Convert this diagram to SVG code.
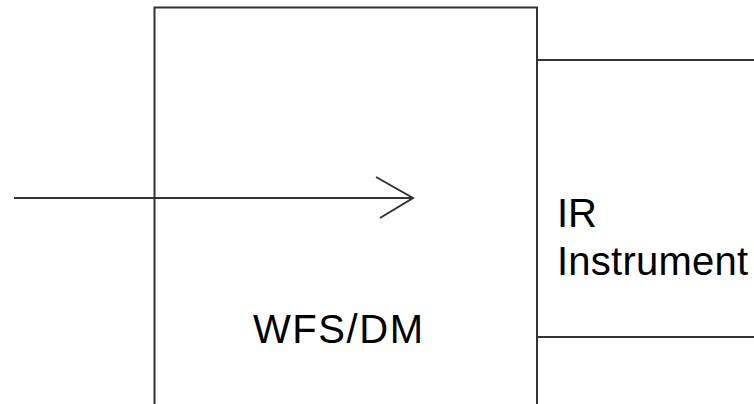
<svg xmlns="http://www.w3.org/2000/svg" width="754" height="404" viewBox="0 0 754 404">
<style>
.ln{fill:none;stroke:#333;stroke-width:2}
.t{font-family:"Liberation Sans",Arial,sans-serif;font-size:40px;fill:#000}
</style>
<rect width="754" height="404" fill="#fff"/>
<g id="wfsdm">
<path class="ln" d="M154.5,404 V7.5 H537 V404"/>
<text class="t" x="253" y="343" textLength="170" lengthAdjust="spacing">WFS/DM</text>
</g>
<g id="ir-instrument">
<path class="ln" d="M537,60 H754 M537,337 H754"/>
<text class="t" x="557" y="227">IR</text>
<text class="t" x="557" y="275" textLength="191" lengthAdjust="spacing">Instrument</text>
</g>
<g id="connectors">
<path class="ln" d="M14,198 H413 M376,177 L413,198 L380,218"/>
</g>
</svg>
